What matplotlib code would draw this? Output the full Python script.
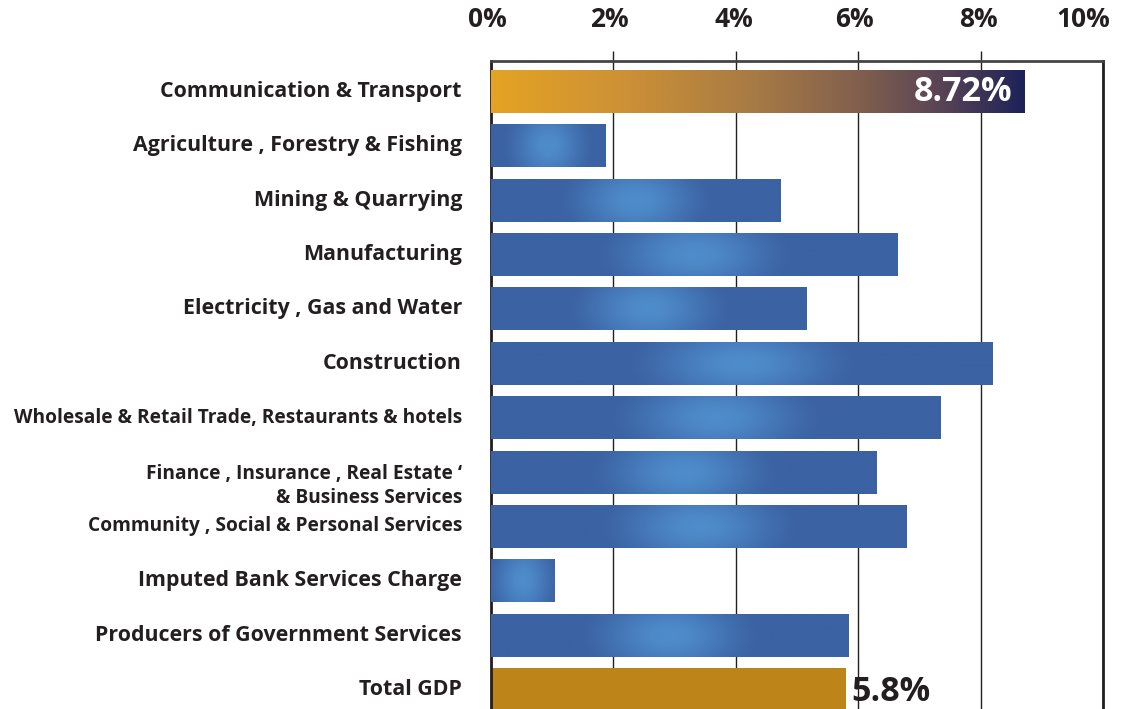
import numpy as np
import matplotlib
matplotlib.use("Agg")
import matplotlib.pyplot as plt
from matplotlib.colors import LinearSegmentedColormap, to_rgb
from matplotlib.transforms import ScaledTranslation

# Sector growth rates (%)
sectors = [
    "Communication & Transport",
    "Agriculture , Forestry & Fishing",
    "Mining & Quarrying",
    "Manufacturing",
    "Electricity , Gas and Water",
    "Construction",
    "Wholesale & Retail Trade, Restaurants & hotels",
    "Finance , Insurance , Real Estate \u2018\n& Business Services",
    "Community , Social & Personal Services",
    "Imputed Bank Services Charge",
    "Producers of Government Services",
    "Total GDP",
]
growth = [8.72, 1.87, 4.73, 6.64, 5.16, 8.20, 7.35, 6.30, 6.79, 1.03, 5.84, 5.80]
tick_values = [0, 2, 4, 6, 8, 10]
tick_labels = ["0%", "2%", "4%", "6%", "8%", "10%"]

FONT = ["Open Sans", "DejaVu Sans"]
DARK = "#231F20"
BLUE = np.array(to_rgb("#3B62A3"))
GLOW = np.array(to_rgb("#4F8CCB"))
GOLD = "#BC8419"
lead_cmap = LinearSegmentedColormap.from_list(
    "lead", [(0.0, "#E4A324"), (0.25, "#CD9136"), (0.5, "#A67A45"),
             (0.7, "#7F5E4E"), (0.85, "#574355"), (1.0, "#1E2259")])

W, H, DPI = 1127, 709, 100
fig = plt.figure(figsize=(W / DPI, H / DPI), dpi=DPI)
ax_left, ax_right = 491, 1103
ax_top, ax_bottom = 61, 711.5
ax = fig.add_axes([ax_left / W, 1 - ax_bottom / H,
                   (ax_right - ax_left) / W, (ax_bottom - ax_top) / H])

n = len(sectors)
ypos = np.arange(n)
bar_h = 0.79
colors = [BLUE] * n
colors[0] = lead_cmap(0.0)
colors[-1] = GOLD
bars = ax.barh(ypos, growth, height=bar_h, color=colors, zorder=2, linewidth=0)

# Gradient fills clipped to each bar
nx, ny = 400, 60
for i, (bar, v) in enumerate(zip(bars, growth)):
    if i == n - 1:
        continue
    xs = np.linspace(0, 1, nx)
    ys = np.linspace(-0.5, 0.5, ny)
    X, Y = np.meshgrid(xs, ys)
    if i == 0:
        img = lead_cmap(X)[..., :3]
    else:
        rx = (0.2 * v + 0.45) / v
        dx = (X - 0.5) / rx
        dy = Y / 1.3
        d = np.clip(np.sqrt(dx ** 2 + dy ** 2), 0, 1)
        w = 1 - d * d * (3 - 2 * d)
        img = BLUE[None, None, :] * (1 - w[..., None]) + GLOW[None, None, :] * w[..., None]
    im = ax.imshow(img, extent=(0, v, i + bar_h / 2, i - bar_h / 2),
                   aspect="auto", interpolation="bilinear", zorder=3)
    im.set_clip_path(bar)

ax.set_xlim(0, 10)
ax.set_ylim(n - 1 + 0.4, -0.555)

# Axis styling
ax.xaxis.tick_top()
ax.set_xticks(tick_values)
ax.set_xticklabels(tick_labels, fontsize=19, fontweight="bold", color=DARK, family=FONT)
ax.tick_params(axis="x", direction="out", length=7.2, width=1.0, color=DARK, pad=13)
ax.tick_params(axis="y", left=False, labelleft=False)
for k in (0, len(tick_values) - 1):
    ax.xaxis.get_major_ticks()[k].tick2line.set_visible(False)
shifts = [-4, -4, -2, -4, -2, -20]
for lab, dx in zip(ax.get_xticklabels(), shifts):
    lab.set_transform(lab.get_transform() + ScaledTranslation(dx / DPI, 0, fig.dpi_scale_trans))

ax.grid(axis="x", color=DARK, linewidth=1.0, zorder=0)
ax.set_axisbelow(True)
for side in ("left", "right"):
    ax.spines[side].set_color(DARK)
    ax.spines[side].set_linewidth(2.0)
ax.spines["top"].set_color("#444444")
ax.spines["top"].set_linewidth(2.0)
ax.spines["bottom"].set_visible(False)

# Category labels (the three longest are set a little tighter)
compact = {6, 7, 8}
for i, name in enumerate(sectors):
    dy = -14 if "\n" in name else 0
    ax.annotate(name, xy=(0, i), xycoords=("axes fraction", "data"),
                xytext=(-29, dy), textcoords="offset pixels",
                ha="right", va="center",
                fontsize=13.8 if i in compact else 15.4, fontweight="bold",
                color=DARK, family=FONT, linespacing=1.25, annotation_clip=False)

# Value labels
ax.annotate(f"{growth[0]:.2f}%", xy=(growth[0], 0), xytext=(-12, -1),
            textcoords="offset pixels", ha="right", va="center",
            fontsize=24.5, fontweight="bold", color="white", family=FONT, zorder=5)
ax.annotate(f"{growth[-1]:.1f}%", xy=(growth[-1], n - 1), xytext=(5, -2),
            textcoords="offset pixels", ha="left", va="center",
            fontsize=24.5, fontweight="bold", color=DARK, family=FONT, zorder=5,
            annotation_clip=False)

fig.savefig("out.png", dpi=DPI)
